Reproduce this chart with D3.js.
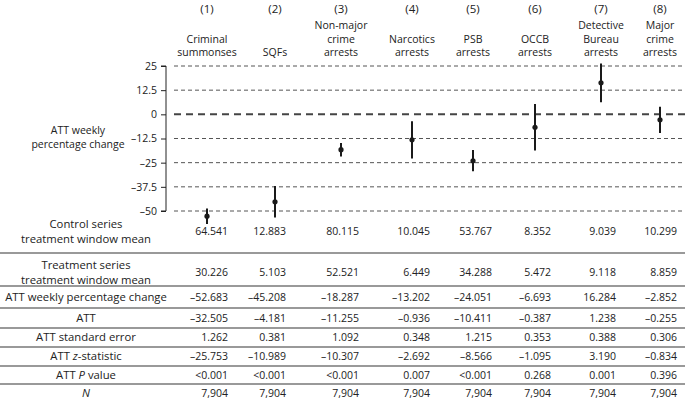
<!DOCTYPE html>
<html><head><meta charset="utf-8">
<script src="https://cdn.jsdelivr.net/npm/d3@7"></script>
<style>
body{margin:0;background:#fff;}
svg text{font-family:"Open Sans",Lato,sans-serif;fill:#222;}
</style></head>
<body><svg id="c" width="685" height="409"></svg>
<script>
const categories = ["(1)","(2)","(3)","(4)","(5)","(6)","(7)","(8)"];
const categoryNames = [["Criminal","summonses"],["SQFs"],["Non-major","crime","arrests"],["Narcotics","arrests"],["PSB","arrests"],["OCCB","arrests"],["Detective","Bureau","arrests"],["Major","crime","arrests"]];
const attPct = [-52.683,-45.208,-18.287,-13.202,-24.051,-6.693,16.284,-2.852];
const ciLower = [-56.7,-53.3,-21.8,-22.8,-29.5,-18.7,6.3,-9.6];
const ciUpper = [-48.7,-37.1,-14.8,-3.6,-18.5,5.3,26.3,3.9];
const yTicks = [25,12.5,0,-12.5,-25,-37.5,-50];
const controlMean = ["64.541","12.883","80.115","10.045","53.767","8.352","9.039","10.299"];
const treatmentMean = ["30.226","5.103","52.521","6.449","34.288","5.472","9.118","8.859"];
const attPctText = ["–52.683","–45.208","–18.287","–13.202","–24.051","–6.693","16.284","–2.852"];
const attVal = ["–32.505","–4.181","–11.255","–0.936","–10.411","–0.387","1.238","–0.255"];
const attSE = ["1.262","0.381","1.092","0.348","1.215","0.353","0.388","0.306"];
const attZ = ["–25.753","–10.989","–10.307","–2.692","–8.566","–1.095","3.190","–0.834"];
const attP = ["<0.001","<0.001","<0.001","0.007","<0.001","0.268","0.001","0.396"];
const nObs = ["7,904","7,904","7,904","7,904","7,904","7,904","7,904","7,904"];

const FS = 10.5, LFS = 11.3;
const LX = 86;
const svg = d3.select("#c");
const x = d3.scaleOrdinal().domain(categories).range([207,275,341,412,473,535,601,660]);
const xr = d3.scaleOrdinal().domain(categories).range([228,286,359,430,492,551,616,677]);
const y = d3.scaleLinear().domain([-50,25]).range([211,66]);
const fmt = v => (v<0?"–":"") + Math.abs(v);

// headers
categories.forEach((c,i)=>{
  svg.append("text").attr("x",x(c)).attr("y",13).attr("text-anchor","middle").attr("font-size",11.5).text(c);
  const lines = categoryNames[i];
  lines.forEach((l,j)=>{
    svg.append("text").attr("x",x(c)).attr("y",56-(lines.length-1-j)*13.5)
      .attr("text-anchor","middle").attr("font-size",FS).text(l);
  });
});

// gridlines
svg.append("g").selectAll("line").data(yTicks).join("line")
  .attr("x1",174).attr("x2",685).attr("y1",d=>y(d)).attr("y2",d=>y(d))
  .attr("stroke",d=>d===0?"#444":"#555").attr("stroke-width",d=>d===0?2:1)
  .attr("stroke-dasharray",d=>d===0?"7,5":"4,3");

// axis
const ax = svg.append("g").attr("transform","translate(166,0)")
  .call(d3.axisLeft(y).tickValues(yTicks).tickSize(5).tickPadding(4).tickFormat(fmt));
ax.select(".domain").attr("stroke","#222").attr("d","M-5,"+y(25)+"H0V"+y(-50)+"H-5");
ax.selectAll(".tick line").attr("stroke","#222");
ax.selectAll(".tick text").attr("font-size",FS).attr("font-family","'Open Sans',sans-serif").attr("fill","#222");

svg.append("text").attr("x",78).attr("y",134).attr("text-anchor","middle").attr("font-size",FS).text("ATT weekly");
svg.append("text").attr("x",78).attr("y",148).attr("text-anchor","middle").attr("font-size",FS).text("percentage change");

// error bars
svg.append("g").selectAll("line").data(categories).join("line")
  .attr("x1",d=>x(d)).attr("x2",d=>x(d))
  .attr("y1",(d,i)=>y(ciUpper[i])).attr("y2",(d,i)=>y(ciLower[i]))
  .attr("stroke","#1a1a1a").attr("stroke-width",2);
svg.append("g").selectAll("circle").data(categories).join("circle")
  .attr("cx",d=>x(d)).attr("cy",(d,i)=>y(attPct[i])).attr("r",2.6).attr("fill","#1a1a1a");

// table
const rows = [
  {label:[["Control series"],["treatment window mean"]], vals:controlMean, cy:231},
  {label:[["Treatment series"],["treatment window mean"]], vals:treatmentMean, cy:272},
  {label:[["ATT weekly percentage change"]], vals:attPctText, cy:297},
  {label:[["ATT"]], vals:attVal, cy:318},
  {label:[["ATT standard error"]], vals:attSE, cy:337},
  {label:[["ATT ",""],["z","i"],["-statistic",""]], inline:true, vals:attZ, cy:356},
  {label:[["ATT ",""],["P","i"],[" value",""]], inline:true, vals:attP, cy:375},
  {label:[["N","i"]], inline:true, vals:nObs, cy:393}
];
const sepY = [253,286,308,328,347,366,384];
svg.append("g").selectAll("line").data(sepY).join("line")
  .attr("x1",0).attr("x2",685).attr("y1",d=>d).attr("y2",d=>d)
  .attr("stroke","#777").attr("stroke-width",1.5);

rows.forEach(r=>{
  if(r.inline){
    const t = svg.append("text").attr("x",LX).attr("y",r.cy+4).attr("text-anchor","middle").attr("font-size",LFS);
    r.label.forEach(p=>t.append("tspan").attr("font-style",p[1]==="i"?"italic":"normal").text(p[0]));
  } else if(r.label.length===2){
    svg.append("text").attr("x",LX).attr("y",r.cy-3).attr("text-anchor","middle").attr("font-size",LFS).text(r.label[0][0]);
    svg.append("text").attr("x",LX).attr("y",r.cy+12).attr("text-anchor","middle").attr("font-size",LFS).text(r.label[1][0]);
  } else {
    svg.append("text").attr("x",LX).attr("y",r.cy+4).attr("text-anchor","middle").attr("font-size",LFS).text(r.label[0][0]);
  }
  svg.append("g").selectAll("text").data(categories).join("text")
    .attr("x",d=>xr(d)).attr("y",r.cy+4).attr("text-anchor","end").attr("font-size",FS)
    .text((d,i)=>r.vals[i]);
});
</script></body></html>
